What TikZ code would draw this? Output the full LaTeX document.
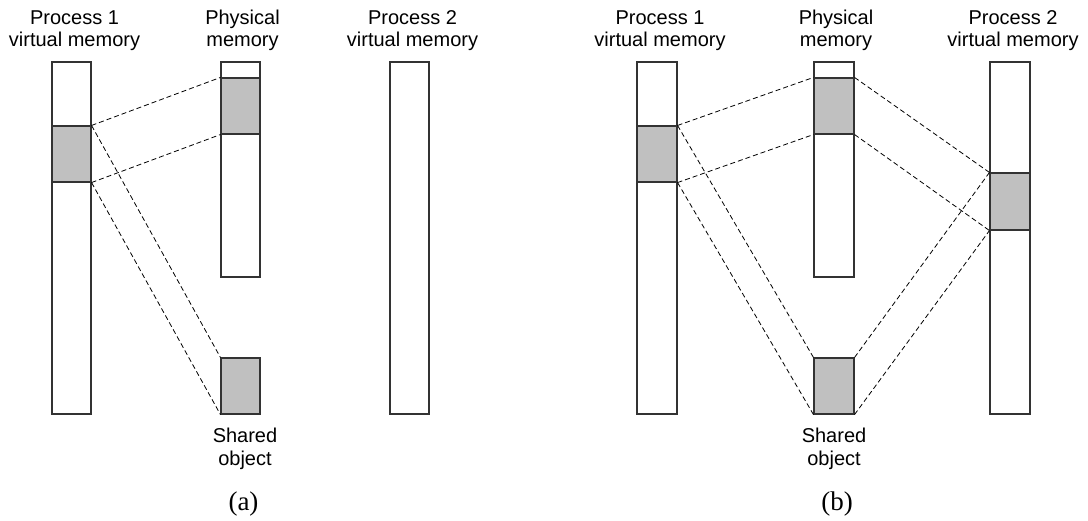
\documentclass[tikz,border=0pt]{standalone}
\usepackage{fontspec}
\setmainfont{Liberation Sans}
\newfontfamily\capfont{Liberation Serif}
\begin{document}
\begin{tikzpicture}[x=1pt,y=-1pt,
  col/.style={draw=black!80,line width=1.1pt,fill=white,inner sep=0pt,minimum width=39pt},
  blk/.style={draw=black!80,line width=1.1pt,fill=shade,inner sep=0pt,minimum width=39pt},
  link/.style={dashed,dash pattern=on 5pt off 3pt,line width=0.8pt,black},
  lbl/.style={font=\fontsize{20}{22.3}\selectfont,align=center,inner sep=0pt,anchor=base},
  subcap/.style={font=\capfont\fontsize{27}{30}\selectfont,inner sep=0pt,anchor=base}]
\definecolor{shade}{RGB}{192,192,192}
\useasboundingbox (0,0) rectangle (1088,521);
% ---------- panel (a)
\node[col,minimum height=352pt] (ap1) at (71.5,238) {};
\node[blk,minimum height=56pt] (ap1s) at (71.5,154) {};
\node[col,minimum height=215pt] (aph) at (240.5,169.5) {};
\node[blk,minimum height=56pt] (aphs) at (240.5,106) {};
\node[blk,minimum height=56pt] (ash) at (240.5,386) {};
\node[col,minimum height=352pt] (ap2) at (409.5,238) {};
\draw[link] (ap1s.north east) -- (aphs.north west);
\draw[link] (ap1s.south east) -- (aphs.south west);
\draw[link] (ap1s.north east) -- (ash.north west);
\draw[link] (ap1s.south east) -- (ash.south west);
\node[lbl] (ap1t) at (74.5,47) {Process 1\\virtual memory};
\node[lbl] (apht) at (242.5,47) {Physical\\memory};
\node[lbl] (ap2t) at (412.5,47) {Process 2\\virtual memory};
\node[lbl] (asht) at (245,465) {Shared\\object};
\node[subcap] (acap) at (243.5,510) {(a)};
% ---------- panel (b)
\node[col,minimum width=40pt,minimum height=352pt] (bp1) at (657,238) {};
\node[blk,minimum width=40pt,minimum height=56pt] (bp1s) at (657,154) {};
\node[col,minimum width=40pt,minimum height=215pt] (bph) at (834,169.5) {};
\node[blk,minimum width=40pt,minimum height=56pt] (bphs) at (834,106) {};
\node[blk,minimum width=40pt,minimum height=56pt] (bsh) at (834,386) {};
\node[col,minimum width=40pt,minimum height=352pt] (bp2) at (1010,238) {};
\node[blk,minimum width=40pt,minimum height=57pt] (bp2s) at (1010,201.5) {};
\draw[link] (bp1s.north east) -- (bphs.north west);
\draw[link] (bp1s.south east) -- (bphs.south west);
\draw[link] (bp1s.north east) -- (bsh.north west);
\draw[link] (bp1s.south east) -- (bsh.south west);
\draw[link] (bphs.north east) -- (bp2s.north west);
\draw[link] (bphs.south east) -- (bp2s.south west);
\draw[link] (bsh.north east) -- (bp2s.north west);
\draw[link] (bsh.south east) -- (bp2s.south west);
\node[lbl] (bp1t) at (660,47) {Process 1\\virtual memory};
\node[lbl] (bpht) at (836,47) {Physical\\memory};
\node[lbl] (bp2t) at (1013,47) {Process 2\\virtual memory};
\node[lbl] (bsht) at (834,465) {Shared\\object};
\node[subcap] (bcap) at (837,510) {(b)};
\end{tikzpicture}
\end{document}
